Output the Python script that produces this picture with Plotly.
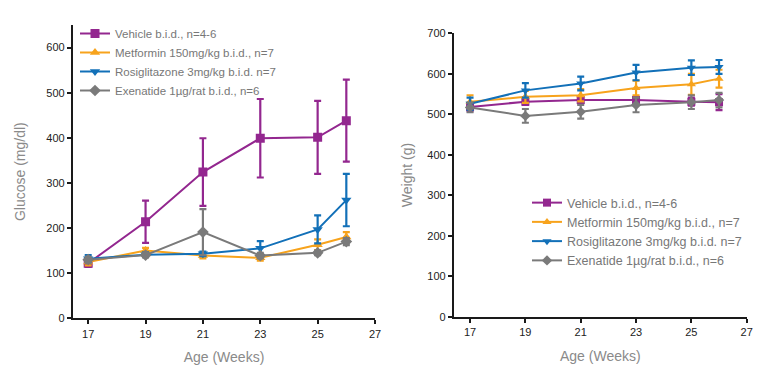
import plotly.graph_objects as go

weeks = [17, 19, 21, 23, 25, 26]
series_names = ["Vehicle b.i.d., n=4-6", "Metformin 150mg/kg b.i.d., n=7",
                "Rosiglitazone 3mg/kg b.i.d. n=7", "Exenatide 1µg/rat b.i.d., n=6"]

glucose_vehicle = [122, 214, 324, 399, 401, 438]
glucose_vehicle_err = [8, 47, 75, 87, 81, 91]
glucose_metformin = [125, 150, 139, 134, 163, 180]
glucose_metformin_err = [8, 6, 6, 6, 12, 11]
glucose_rosi = [132, 141, 143, 155, 197, 262]
glucose_rosi_err = [8, 5, 5, 16, 31, 58]
glucose_exen = [130, 140, 191, 139, 145, 170]
glucose_exen_err = [6, 5, 51, 6, 5, 8]

weight_vehicle = [518, 531, 535, 535, 531, 530]
weight_vehicle_err = [10, 8, 8, 8, 10, 20]
weight_metformin = [531, 543, 547, 565, 574, 588]
weight_metformin_err = [16, 15, 15, 18, 26, 22]
weight_rosi = [526, 559, 576, 603, 615, 617]
weight_rosi_err = [15, 18, 17, 19, 18, 17]
weight_exen = [517, 496, 506, 523, 530, 535]
weight_exen_err = [12, 17, 17, 18, 17, 18]

colors = ["#93278F", "#F7A31C", "#1270B8", "#7A7A7A"]
symbols = ["square", "triangle-up", "triangle-down", "diamond"]

glucose = [(glucose_vehicle, glucose_vehicle_err), (glucose_metformin, glucose_metformin_err),
           (glucose_rosi, glucose_rosi_err), (glucose_exen, glucose_exen_err)]
weight = [(weight_vehicle, weight_vehicle_err), (weight_metformin, weight_metformin_err),
          (weight_rosi, weight_rosi_err), (weight_exen, weight_exen_err)]

# page body has an 8px default margin; figure sized to fit the 761x375 window
OFF = 8
W, H = 761 - OFF, 375 - OFF
FONT = "Liberation Sans, Arial, sans-serif"


def px(x):
    return (x - OFF) / W


def py(y):
    return (H - (y - OFF)) / H


fig = go.Figure()
for i in range(4):
    vals, err = glucose[i]
    fig.add_trace(go.Scatter(
        x=weeks, y=vals, name=series_names[i], mode="lines+markers",
        line=dict(color=colors[i], width=2),
        marker=dict(symbol=symbols[i], size=9, color=colors[i]),
        error_y=dict(type="data", array=err, color=colors[i], thickness=2.2, width=3.5),
        xaxis="x", yaxis="y", legend="legend"))
for i in range(4):
    vals, err = weight[i]
    fig.add_trace(go.Scatter(
        x=weeks, y=vals, name=series_names[i], mode="lines+markers",
        line=dict(color=colors[i], width=2),
        marker=dict(symbol=symbols[i], size=8, color=colors[i]),
        error_y=dict(type="data", array=err, color=colors[i], thickness=2.2, width=3.5),
        xaxis="x2", yaxis="y2", legend="legend2"))

axis_common = dict(showline=True, linecolor="#1a1a1a", linewidth=2.2, ticks="outside",
                   ticklen=4, tickwidth=1.5, tickcolor="#1a1a1a", showgrid=False,
                   zeroline=False, automargin=False,
                   tickfont=dict(family=FONT, size=11, color="#222"),
                   title_font=dict(family=FONT, size=14, color="#8a8a8a"))

fig.update_layout(
    width=W, height=H, margin=dict(l=0, r=0, t=0, b=0),
    paper_bgcolor="white", plot_bgcolor="white",
    font=dict(family=FONT),
    xaxis=dict(domain=[px(73), px(375)], range=[16.47, 27], tickvals=[17, 19, 21, 23, 25, 27],
               anchor="y", title=dict(text="Age (Weeks)", standoff=14), **axis_common),
    yaxis=dict(domain=[py(318.3), py(25)], range=[0, 650],
               tickvals=[0, 100, 200, 300, 400, 500, 600], anchor="x",
               title=dict(text="Glucose (mg/dl)", standoff=17), **axis_common),
    xaxis2=dict(domain=[px(454), px(746.7)], range=[16.42, 27], tickvals=[17, 19, 21, 23, 25, 27],
                anchor="y2", title=dict(text="Age (Weeks)", standoff=14), **axis_common),
    yaxis2=dict(domain=[py(316.7), py(33.3)], range=[0, 700],
                tickvals=[0, 100, 200, 300, 400, 500, 600, 700], anchor="x2",
                title=dict(text="Weight (g)", standoff=11), **axis_common),
    legend=dict(x=px(75), y=py(19), xanchor="left", yanchor="top",
                bgcolor="rgba(0,0,0,0)", font=dict(family=FONT, size=11.5, color="#777"),
                tracegroupgap=0, itemwidth=30),
    legend2=dict(x=px(527), y=py(188), xanchor="left", yanchor="top",
                 bgcolor="rgba(0,0,0,0)", font=dict(family=FONT, size=12.5, color="#777"),
                 tracegroupgap=0, itemwidth=30),
)

fig.write_html("out.html")
